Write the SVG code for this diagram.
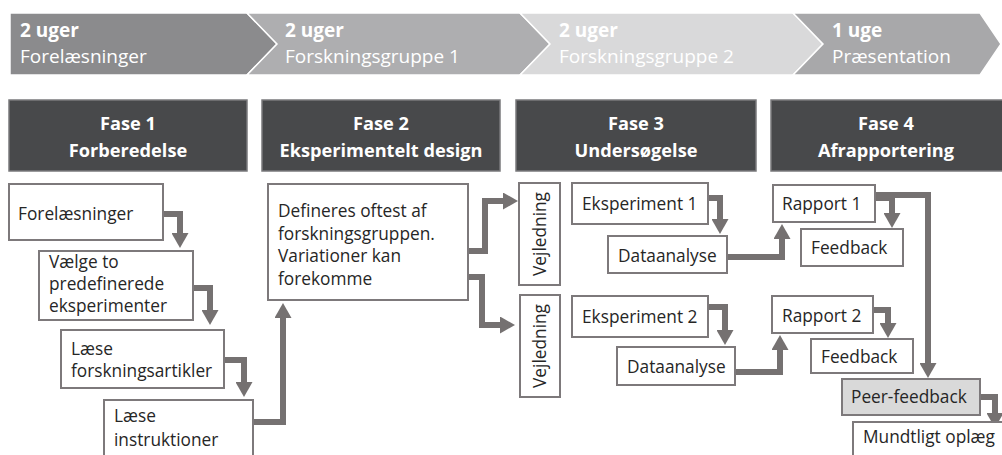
<svg xmlns="http://www.w3.org/2000/svg" width="1002" height="455" viewBox="0 0 1002 455">
<style>
.chev{stroke:#ffffff;stroke-width:1.5}
.ct{font-family:"Open Sans","Liberation Sans",sans-serif;font-size:19px;fill:#ffffff}
.cb{font-weight:bold}
.hdr{fill:#48494b;stroke:#7a7a7c;stroke-width:1.5}
.ht{font-family:"Open Sans","Liberation Sans",sans-serif;font-size:18.2px;font-weight:bold;fill:#ffffff;text-anchor:middle}
.box{fill:#ffffff;stroke:#7d797b;stroke-width:2}
.gbox{fill:#d9d9d9;stroke:#7d797b;stroke-width:2}
.bt{font-family:"Open Sans","Liberation Sans",sans-serif;font-size:17.3px;fill:#262626}
.con{fill:none;stroke:#757171;stroke-width:6;marker-end:url(#ah)}
</style>
<defs>
<marker id="ah" markerUnits="userSpaceOnUse" markerWidth="15" markerHeight="17" refX="0" refY="8.5" orient="auto" viewBox="0 0 15 17">
<path d="M0,0 L15,8.5 L0,17 Z" fill="#757171"/>
</marker>
</defs>
<rect width="1002" height="455" fill="#ffffff"/>

<g id="timeline">
<g id="chev1"><path class="chev" d="M10,13 H247 L277,44 L247,75 H10 Z" fill="#8b8b8d"/>
<text class="ct cb" x="20" y="37">2 uger</text><text class="ct" x="20" y="63">Forelæsninger</text></g>
<g id="chev2"><path class="chev" d="M247,13 H520 L550,44 L520,75 H247 L277,44 Z" fill="#aeaeb0"/>
<text class="ct cb" x="285" y="37">2 uger</text><text class="ct" x="285" y="63">Forskningsgruppe 1</text></g>
<g id="chev3"><path class="chev" d="M520,13 H793 L823,44 L793,75 H520 L550,44 Z" fill="#d9d9da"/>
<text class="ct cb" x="559" y="37">2 uger</text><text class="ct" x="559" y="63">Forskningsgruppe 2</text></g>
<g id="chev4"><path class="chev" d="M793,13 H980 L1001,44 L980,75 H793 L823,44 Z" fill="#a8a8aa"/>
<text class="ct cb" x="832" y="37">1 uge</text><text class="ct" x="832" y="63">Præsentation</text></g>
</g>

<g id="fase1"><rect class="hdr" x="9" y="100" width="238" height="71"/><text class="ht" x="128" y="130">Fase 1</text><text class="ht" x="128" y="157">Forberedelse</text></g>
<g id="fase2"><rect class="hdr" x="262" y="100" width="238" height="71"/><text class="ht" x="381" y="130">Fase 2</text><text class="ht" x="381" y="157">Eksperimentelt design</text></g>
<g id="fase3"><rect class="hdr" x="516" y="100" width="240" height="71"/><text class="ht" x="636" y="130">Fase 3</text><text class="ht" x="636" y="157">Undersøgelse</text></g>
<g id="fase4"><rect class="hdr" x="771" y="100" width="240" height="71"/><text class="ht" x="886" y="130">Fase 4</text><text class="ht" x="886" y="157">Afrapportering</text></g>

<g id="connectors">
<path class="con" d="M163,214 H180 V233"/>
<path class="con" d="M193,288 H210 V310"/>
<path class="con" d="M224,360 H244 V382"/>
<path class="con" d="M253,422 H283 V318"/>
<path class="con" d="M468,251 H485 V201 H503"/>
<path class="con" d="M468,277 H482 V325 H500"/>
<path class="con" d="M708,198 H720 V219"/>
<path class="con" d="M727,257 H782 V239"/>
<path class="con" d="M708,307 H725 V330"/>
<path class="con" d="M735,372 H780 V350"/>
<path class="con" d="M875,195 H928 V363"/>
<path class="con" d="M875,198 H892 V213"/>
<path class="con" d="M873,310 H888 V323"/>
<path class="con" d="M980,397 H995 V413"/>
</g>

<g id="n-forelaesninger"><rect class="box" x="9" y="184" width="154" height="56"/><text class="bt" x="18" y="220">Forelæsninger</text></g>
<g id="n-vaelge"><rect class="box" x="39" y="251" width="154" height="69"/><text class="bt" x="49" y="268">Vælge to</text><text class="bt" x="49" y="290">predefinerede</text><text class="bt" x="49" y="312">eksperimenter</text></g>
<g id="n-laese-art"><rect class="box" x="61" y="330" width="163" height="58"/><text class="bt" x="71" y="355">Læse</text><text class="bt" x="71" y="377">forskningsartikler</text></g>
<g id="n-laese-instr"><rect class="box" x="104" y="400" width="149" height="70"/><text class="bt" x="114" y="422">Læse</text><text class="bt" x="114" y="446">instruktioner</text></g>

<g id="n-defineres"><rect class="box" x="268" y="184" width="200" height="116"/><text class="bt" x="278" y="217">Defineres oftest af</text><text class="bt" x="278" y="240">forskningsgruppen.</text><text class="bt" x="278" y="262">Variationer kan</text><text class="bt" x="278" y="285">forekomme</text></g>

<g id="n-vejledning1"><rect class="box" x="519" y="183" width="41" height="102"/><text class="bt" text-anchor="middle" transform="translate(546,234) rotate(-90)">Vejledning</text></g>
<g id="n-vejledning2"><rect class="box" x="520" y="295" width="40" height="102"/><text class="bt" text-anchor="middle" transform="translate(546,346) rotate(-90)">Vejledning</text></g>

<g id="n-eksp1"><rect class="box" x="572" y="183" width="136" height="41"/><text class="bt" x="582" y="210">Eksperiment 1</text></g>
<g id="n-data1"><rect class="box" x="608" y="236" width="119" height="37"/><text class="bt" x="618" y="262">Dataanalyse</text></g>
<g id="n-eksp2"><rect class="box" x="572" y="296" width="136" height="41"/><text class="bt" x="582" y="323">Eksperiment 2</text></g>
<g id="n-data2"><rect class="box" x="617" y="347" width="118" height="38"/><text class="bt" x="627" y="373">Dataanalyse</text></g>

<g id="n-rapport1"><rect class="box" x="773" y="185" width="102" height="37"/><text class="bt" x="782" y="210">Rapport 1</text></g>
<g id="n-feedback1"><rect class="box" x="801" y="229" width="102" height="37"/><text class="bt" x="811" y="254">Feedback</text></g>
<g id="n-rapport2"><rect class="box" x="772" y="296" width="101" height="37"/><text class="bt" x="782" y="322">Rapport 2</text></g>
<g id="n-feedback2"><rect class="box" x="811" y="339" width="102" height="34"/><text class="bt" x="821" y="363">Feedback</text></g>
<g id="n-peer"><rect class="gbox" x="842" y="379" width="138" height="36"/><text class="bt" x="851" y="403">Peer-feedback</text></g>
<g id="n-mundtligt"><rect class="box" x="853" y="422" width="160" height="50"/><text class="bt" x="863" y="443">Mundtligt oplæg</text></g>
</svg>
